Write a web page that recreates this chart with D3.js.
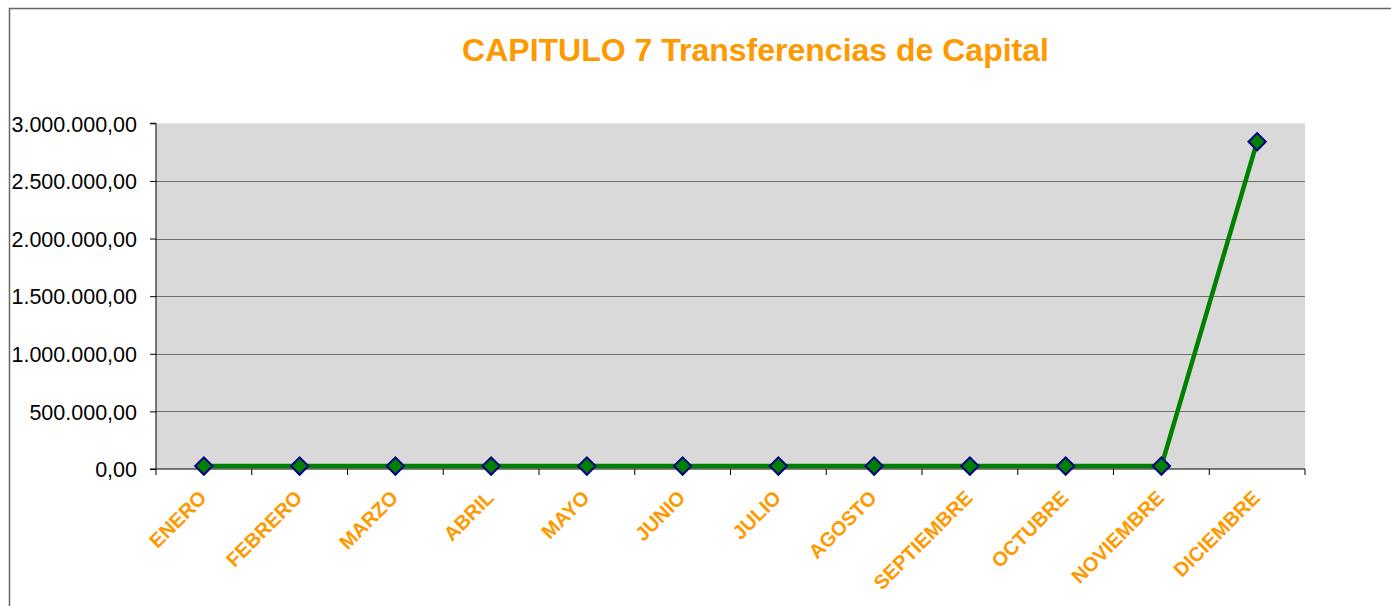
<!DOCTYPE html>
<html>
<head>
<meta charset="utf-8" />
<title>CAPITULO 7 Transferencias de Capital</title>
<script src="https://d3js.org/d3.v7.min.js"></script>
<style>
html, body { margin: 0; padding: 0; background: #fff; }
svg { display: block; font-family: "Liberation Sans", Arial, sans-serif; }
.title { font-size: 32px; font-weight: bold; fill: #FF9900; }
.y-axis text { font-size: 21.5px; fill: #000; }
.x-axis text { font-size: 20px; font-weight: bold; fill: #FF9900; }
</style>
</head>
<body>
<script>
let months = ['ENERO', 'FEBRERO', 'MARZO', 'ABRIL', 'MAYO', 'JUNIO', 'JULIO', 'AGOSTO', 'SEPTIEMBRE', 'OCTUBRE', 'NOVIEMBRE', 'DICIEMBRE'];
let values = [25000, 25000, 25000, 25000, 25000, 25000, 25000, 25000, 25000, 25000, 25000, 2840000];
let yTicks = [0, 500000, 1000000, 1500000, 2000000, 2500000, 3000000];

let width = 1391, height = 606;
let plot = {left: 156, right: 1305, top: 123.3, bottom: 469};

let svg = d3.select('body').append('svg').attr('width', width).attr('height', height);

// chart frame
svg.append('rect').attr('x', 9.5).attr('y', 8.5).attr('width', width + 20).attr('height', height + 20)
    .attr('fill', '#fff').attr('stroke', '#666').attr('stroke-width', 1.5);

let xScale = d3.scaleBand().domain(months).range([plot.left, plot.right]);
let yScale = d3.scaleLinear().domain([0, 3000000]).range([plot.bottom, plot.top]);

let fmt = (v) => {
    let s = d3.format(',.2f')(v);
    return s.replace(/,/g, '#').replace('.', ',').replace(/#/g, '.');
};

// plot background
svg.append('rect').attr('x', plot.left).attr('y', plot.top)
    .attr('width', plot.right - plot.left).attr('height', plot.bottom - plot.top).attr('fill', '#D9D9D9');

// grid lines
svg.append('g').selectAll('line').data(yTicks.filter((d) => d > 0 && d < 3000000)).enter()
    .append('line')
    .attr('x1', plot.left).attr('x2', plot.right)
    .attr('y1', (d) => Math.round(yScale(d)) + 0.5).attr('y2', (d) => Math.round(yScale(d)) + 0.5)
    .attr('stroke', '#6e6e6e').attr('stroke-width', 1);

// y axis
let yAxis = d3.axisLeft(yScale).tickValues(yTicks).tickFormat(fmt).tickSize(6).tickPadding(13);
let gy = svg.append('g').attr('class', 'y-axis').attr('transform', 'translate(' + plot.left + ', 0)').call(yAxis);
gy.select('.domain').attr('d', 'M-6,' + plot.top + 'H0V' + plot.bottom).attr('stroke', '#000');
gy.selectAll('.tick line').attr('stroke', '#000');
gy.selectAll('text').attr('dy', '0.36em').style('font-family', '"Liberation Sans", Arial, sans-serif');

// x axis with ticks at category boundaries
let gx = svg.append('g').attr('class', 'x-axis').attr('transform', 'translate(0, ' + plot.bottom + ')');
gx.append('line').attr('x1', plot.left - 6).attr('x2', plot.right).attr('y1', 0).attr('y2', 0).attr('stroke', '#000');
gx.selectAll('.btick').data(months.concat(['end'])).enter().append('line').attr('class', 'btick')
    .attr('x1', (d, i) => i < months.length ? xScale(d) : plot.right)
    .attr('x2', (d, i) => i < months.length ? xScale(d) : plot.right)
    .attr('y1', 0).attr('y2', 6).attr('stroke', '#000');
gx.selectAll('text').data(months).enter().append('text')
    .attr('text-anchor', 'end')
    .attr('transform', (d) => 'translate(' + (xScale(d) + xScale.bandwidth() / 2 + 4) + ', 30) rotate(-45)')
    .style('font-family', '"Liberation Sans", Arial, sans-serif')
    .text((d) => d);

// line
let line = d3.line().x((d, i) => xScale(months[i]) + xScale.bandwidth() / 2).y((d) => yScale(d));
svg.append('path').datum(values).attr('d', line)
    .attr('fill', 'none').attr('stroke', '#008000').attr('stroke-width', 4.5).attr('stroke-linejoin', 'miter');

// diamond markers
let diamond = d3.symbol().type(d3.symbolSquare).size(150);
svg.append('g').selectAll('path').data(values).enter().append('path')
    .attr('d', diamond)
    .attr('transform', (d, i) => 'translate(' + (xScale(months[i]) + xScale.bandwidth() / 2) + ',' + yScale(d) + ') rotate(45)')
    .attr('fill', '#008000').attr('stroke', '#000080').attr('stroke-width', 2);

// title
svg.append('text').attr('class', 'title').attr('x', 755.5).attr('y', 61).attr('text-anchor', 'middle')
    .text('CAPITULO 7 Transferencias de Capital');
</script>
</body>
</html>
